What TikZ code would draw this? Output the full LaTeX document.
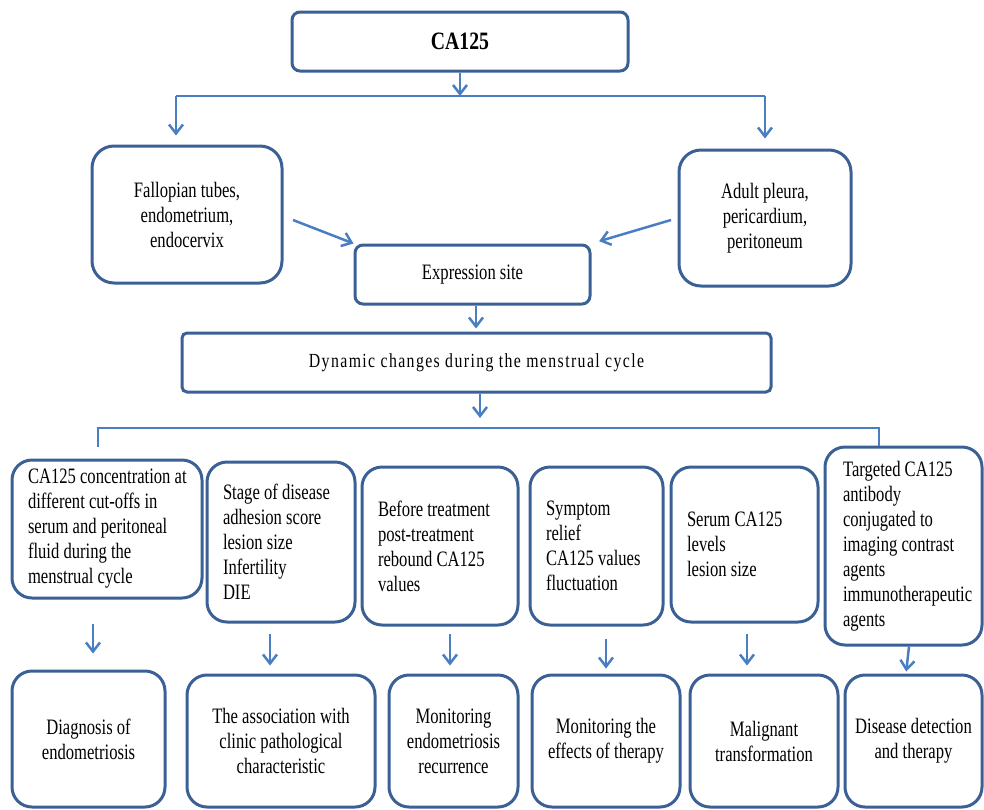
\documentclass[tikz,border=0pt]{standalone}
\usepackage{fontspec}
\setmainfont{Liberation Serif}[FakeStretch=0.79]
\newfontfamily\boxfont{Liberation Serif}[FakeStretch=0.755]
\usetikzlibrary{arrows.meta}
\definecolor{boxblue}{RGB}{58,96,150}
\definecolor{arrblue}{RGB}{74,126,195}
\newcommand\LL[1]{\mbox{#1}}
\tikzset{
  box/.style={draw=boxblue, line width=3pt, rounded corners=#1, inner sep=0pt,
    align=center, font=\boxfont\fontsize{22}{25}\selectfont, text=black},
  box/.default=20pt,
  lbox/.style={box, align=flush left, inner xsep=16pt, inner ysep=0pt},
  conn/.style={draw=arrblue, line width=2.5pt},
  arr/.style={conn, -{Straight Barb[length=9pt,width=14pt,line width=2.5pt]}},
}
\begin{document}
\begin{tikzpicture}[x=1pt,y=-1pt]
\useasboundingbox (0,0) rectangle (984,809);

% top
\node[box=8pt, font=\bfseries\fontsize{25}{30}\selectfont, minimum width=336pt, minimum height=59pt] (ca) at (460,41.5) {CA125};
\node[box=22pt, minimum width=190pt, minimum height=137pt] (fal) at (187,214.5) {Fallopian tubes,\\endometrium,\\endocervix};
\node[box=22pt, minimum width=172pt, minimum height=136pt] (adl) at (765,218) {Adult pleura,\\pericardium,\\peritoneum};
\node[box=8pt, minimum width=235pt, minimum height=59pt] (exp) at (472.5,274.5) {Expression site};
\node[box=5pt, minimum width=589pt, minimum height=59pt, font=\fontsize{20}{24}\selectfont\addfontfeature{LetterSpace=7}] (dyn) at (476.5,362.5) {Dynamic changes during the menstrual cycle};

% middle row
\node[lbox, text width=158pt, minimum height=138pt] (m1) at (107,529) {\LL{CA125 concentration at}\\different cut-offs in\\serum and peritoneal\\fluid during the\\menstrual cycle};
\node[lbox, text width=116pt, minimum height=160pt] (m2) at (281,542) {Stage of disease\\adhesion score\\lesion size\\Infertility\\DIE};
\node[lbox, text width=124pt, minimum height=158pt] (m3) at (440,546) {Before treatment\\post-treatment\\rebound CA125\\values};
\node[lbox, text width=101pt, minimum height=158pt] (m4) at (596.5,546) {Symptom\\relief\\CA125 values\\fluctuation};
\node[lbox, text width=115pt, minimum height=155pt] (m5) at (744.5,544.5) {Serum CA125\\levels\\lesion size};
\node[lbox, inner xsep=18pt, text width=121pt, minimum height=198pt] (m6) at (903.5,546) {Targeted CA125\\antibody\\conjugated to\\imaging contrast\\agents\\\LL{immunotherapeutic}\\agents};

% bottom row
\node[box, minimum width=153pt, minimum height=136pt] (b1) at (88.5,739) {Diagnosis of\\endometriosis};
\node[box, minimum width=188pt, minimum height=132pt] (b2) at (281,741) {The association with\\clinic pathological\\characteristic};
\node[box, minimum width=129pt, minimum height=132pt] (b3) at (453.5,741) {Monitoring\\endometriosis\\recurrence};
\node[box, minimum width=148pt, minimum height=132pt] (b4) at (606,741) {Monitoring the\\effects of therapy};
\node[box, minimum width=148pt, minimum height=132pt] (b5) at (764,741) {Malignant\\transformation};
\node[box, minimum width=137pt, minimum height=132pt] (b6) at (913.5,741) {Disease detection\\and therapy};

% connectors top
\coordinate (j1) at (460,96);
\coordinate (l1) at (176,96);
\coordinate (r1) at (765,96);
\draw[arr] (ca.south) -- (j1);
\draw[conn] (l1) -- (r1);
\draw[arr, shorten >=9pt] (l1) -- (l1 |- fal.north);
\draw[arr, shorten >=10pt] (r1) -- (r1 |- adl.north);
\coordinate (fa) at (293,220);
\coordinate (ad) at (671,220);
\draw[arr] (fa) -- (exp.north west);
\draw[arr, shorten >=8pt] (ad) -- (exp.north east);
\draw[arr, shorten >=3pt] ([xshift=3.5pt]exp.south) -- ([xshift=3.5pt]exp.south |- dyn.north);
\coordinate (j2) at (480,428);
\draw[arr, shorten >=10pt] ([xshift=3.5pt]dyn.south) -- (j2);
\coordinate (l2) at (98,428);
\coordinate (l2b) at (98,447);
\coordinate (r2) at (879,428);
\draw[conn] (l2b) -- (l2) -- (r2) -- (r2 |- m6.north);

% connectors bottom
\draw[arr, shorten <=24pt, shorten >=16pt] ([xshift=-14pt]m1.south) -- ([xshift=-14pt]m1.south |- b1.north);
\draw[arr, shorten <=10pt, shorten >=8pt] ([xshift=-11pt]m2.south) -- ([xshift=-11pt]m2.south |- b2.north);
\draw[arr, shorten <=7pt, shorten >=8pt] ([xshift=10pt]m3.south) -- ([xshift=10pt]m3.south |- b3.north);
\draw[arr, shorten <=12pt, shorten >=5pt] ([xshift=9.5pt]m4.south) -- ([xshift=9.5pt]m4.south |- b4.north);
\draw[arr, shorten <=10pt, shorten >=8pt] ([xshift=2.5pt]m5.south) -- ([xshift=2.5pt]m5.south |- b5.north);
\draw[arr, shorten >=2pt] ([xshift=5.5pt]m6.south) -- ([xshift=-7.5pt]b6.north);
\end{tikzpicture}
\end{document}
